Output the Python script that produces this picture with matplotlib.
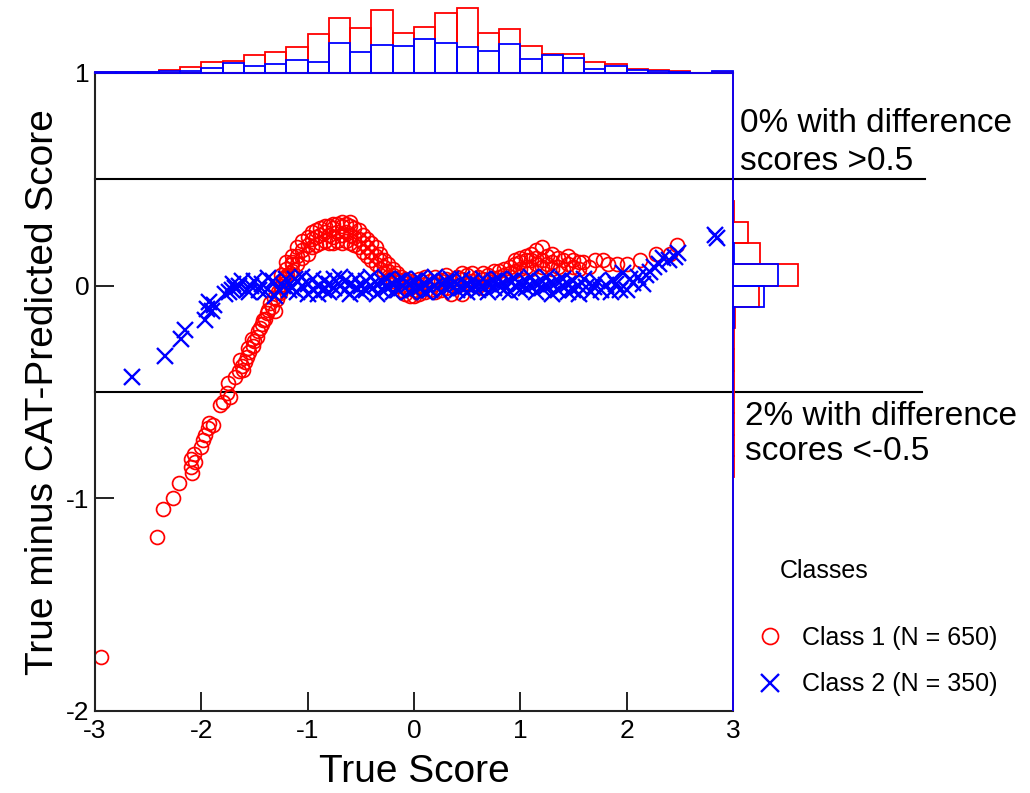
import matplotlib.pyplot as plt
import numpy as np

plt.rcParams['font.family'] = ['Liberation Sans', 'DejaVu Sans']
plt.rcParams['axes.unicode_minus'] = False

# ---- data ----
# marginal histogram of true score, bins of 0.2 from -3 to 3
top_edges = np.linspace(-3, 3, 31)
top_red = [1, 1, 1, 3, 6, 10, 11, 17, 20, 24, 37, 52, 42, 59, 38,
           43, 56, 61, 38, 41, 25, 18, 18, 10, 8, 4, 3, 2, 0, 1]
top_blue = [1, 1, 1, 2, 2, 5, 9, 7, 8, 12, 10, 28, 20, 26, 25,
            32, 28, 24, 21, 27, 13, 17, 14, 4, 7, 3, 2, 1, 0, 2]

# marginal histogram of difference, bins of 0.1 from -2 to 1
right_edges = np.linspace(-2, 1, 31)
right_red = [0, 0, 1, 0, 0, 0, 0, 0, 1, 1, 2, 4, 4, 4, 5,
             5, 6, 6, 11, 117, 291, 121, 67, 4, 0, 0, 0, 0, 0, 0]
right_blue = [0, 0, 0, 0, 0, 0, 0, 0, 0, 0, 0, 0, 0, 0, 0,
              1, 1, 2, 4, 137, 200, 3, 2, 0, 0, 0, 0, 0, 0, 0]

red_tail = [(-2.94, -1.745), (-2.42, -1.18), (-2.36, -1.05), (-2.27, -1.00), (-2.21, -0.93),
            (-2.085, -0.88), (-2.10, -0.855), (-2.06, -0.83), (-2.10, -0.815), (-2.07, -0.79),
            (-2.00, -0.76), (-1.98, -0.725), (-1.965, -0.70), (-1.935, -0.67), (-1.89, -0.655),
            (-1.93, -0.645), (-1.825, -0.56), (-1.795, -0.545), (-1.73, -0.525), (-1.76, -0.505),
            (-1.75, -0.46), (-1.685, -0.43), (-1.65, -0.40), (-1.605, -0.395), (-1.635, -0.35),
            (-1.575, -0.335), (-1.56, -0.295), (-1.51, -0.285), (-1.525, -0.25), (-1.465, -0.215),
            (-1.43, -0.18), (-1.40, -0.155), (-1.37, -0.115), (-1.34, -0.10), (-1.305, -0.12),
            (-1.29, -0.065), (-1.26, -0.035), (-1.23, 0.01), (-1.165, 0.06), (-1.15, 0.10),
            (-1.62, -0.38), (-1.59, -0.36), (-1.55, -0.31), (-1.50, -0.26), (-1.48, -0.24),
            (-1.45, -0.20), (-1.42, -0.16), (-1.38, -0.13), (-1.35, -0.08), (-1.32, -0.06),
            (-1.28, -0.03), (-1.25, 0.00), (-1.22, 0.03), (-1.19, 0.05)]

red_hump = [(-1.25, 0.02), (-1.25, 0.05), (-1.20, 0.04), (-1.20, 0.08), (-1.20, 0.11),
            (-1.15, 0.07), (-1.15, 0.11), (-1.15, 0.14), (-1.10, 0.10), (-1.10, 0.14), (-1.10, 0.18),
            (-1.05, 0.13), (-1.05, 0.17), (-1.05, 0.21), (-1.00, 0.15), (-1.00, 0.19), (-1.00, 0.23),
            (-0.96, 0.18), (-0.96, 0.22), (-0.96, 0.25), (-0.92, 0.19), (-0.92, 0.23), (-0.92, 0.26),
            (-0.88, 0.20), (-0.88, 0.24), (-0.88, 0.27), (-0.84, 0.21), (-0.84, 0.25), (-0.84, 0.28),
            (-0.80, 0.20), (-0.80, 0.24), (-0.80, 0.28), (-0.76, 0.20), (-0.76, 0.23), (-0.76, 0.27),
            (-0.76, 0.29), (-0.72, 0.21), (-0.72, 0.25), (-0.72, 0.29), (-0.68, 0.20), (-0.68, 0.24),
            (-0.68, 0.28), (-0.68, 0.30), (-0.64, 0.21), (-0.64, 0.25), (-0.64, 0.29), (-0.60, 0.20),
            (-0.60, 0.24), (-0.60, 0.28), (-0.60, 0.30), (-0.56, 0.19), (-0.56, 0.23), (-0.56, 0.27),
            (-0.52, 0.18), (-0.52, 0.22), (-0.52, 0.26), (-0.48, 0.16), (-0.48, 0.20), (-0.48, 0.24),
            (-0.44, 0.14), (-0.44, 0.18), (-0.44, 0.22), (-0.40, 0.12), (-0.40, 0.16), (-0.40, 0.20),
            (-0.36, 0.10), (-0.36, 0.14), (-0.36, 0.18), (-0.32, 0.08), (-0.32, 0.12), (-0.32, 0.15),
            (-0.28, 0.06), (-0.28, 0.09), (-0.28, 0.12), (-0.24, 0.04), (-0.24, 0.07), (-0.24, 0.10),
            (-0.20, 0.02), (-0.20, 0.05), (-0.20, 0.08), (-0.16, 0.00), (-0.16, 0.03), (-0.16, 0.06),
            (-0.12, -0.02), (-0.12, 0.02), (-0.12, 0.04), (-0.08, -0.04), (-0.08, 0.00), (-0.08, 0.03),
            (-0.04, -0.05), (-0.04, -0.01), (-0.04, 0.02), (0.00, -0.05), (0.00, -0.02), (0.00, 0.01)]

red_mid = [(0.05, -0.04), (0.05, 0.00), (0.05, 0.03), (0.10, -0.03), (0.10, 0.01), (0.10, 0.04),
           (0.15, -0.02), (0.15, 0.02), (0.20, -0.03), (0.20, 0.01), (0.20, 0.04), (0.25, -0.02),
           (0.25, 0.02), (0.30, -0.01), (0.30, 0.03), (0.30, 0.05), (0.35, -0.04), (0.35, 0.02),
           (0.40, 0.00), (0.40, 0.04), (0.45, -0.04), (0.45, 0.03), (0.45, 0.06), (0.50, 0.01),
           (0.50, 0.05), (0.55, 0.02), (0.55, 0.06), (0.60, 0.00), (0.60, 0.04), (0.65, -0.01),
           (0.65, 0.03), (0.65, 0.06), (0.70, 0.02), (0.70, 0.05), (0.75, 0.03), (0.75, 0.07),
           (0.80, 0.04), (0.80, 0.07), (0.85, 0.05), (0.85, 0.08), (0.90, 0.06), (0.90, 0.09),
           (0.95, 0.07), (0.95, 0.10), (0.95, 0.12), (1.00, 0.08), (1.00, 0.11), (1.00, 0.13),
           (1.05, 0.09), (1.05, 0.12), (1.05, 0.14), (1.10, 0.08), (1.10, 0.12), (1.10, 0.15),
           (1.15, 0.10), (1.15, 0.13), (1.15, 0.17), (1.20, 0.09), (1.20, 0.12), (1.20, 0.18),
           (1.25, 0.10), (1.25, 0.14), (1.30, 0.08), (1.30, 0.11), (1.30, 0.15), (1.35, 0.09),
           (1.35, 0.13), (1.40, 0.08), (1.40, 0.12), (1.45, 0.10), (1.45, 0.14), (1.50, 0.09),
           (1.50, 0.12), (1.55, 0.08), (1.55, 0.11), (1.59, 0.11), (1.65, 0.09), (1.70, 0.12),
           (1.78, 0.12), (1.82, 0.10), (1.91, 0.10), (2.00, 0.10), (2.13, 0.12), (2.28, 0.15),
           (2.41, 0.15), (2.47, 0.19)]

blue_tail = [(-2.65, -0.43), (-2.34, -0.33), (-2.19, -0.25), (-2.15, -0.21), (-1.97, -0.16),
             (-1.95, -0.11), (-1.90, -0.12), (-1.93, -0.075), (-1.88, -0.09), (-1.78, -0.04),
             (-1.74, -0.03), (-1.71, -0.02), (-1.70, 0.01), (-1.68, -0.01), (-1.65, 0.00),
             (-1.62, 0.02), (-1.57, -0.02), (-1.55, -0.03), (-1.53, 0.00), (-1.50, 0.02),
             (-1.46, -0.02), (-1.43, 0.01), (-1.40, -0.03), (-1.37, 0.035), (-1.33, 0.02),
             (-1.31, -0.05), (-1.27, -0.02), (-1.23, 0.00), (-1.20, 0.03), (-1.18, -0.02),
             (-1.15, -0.01), (-1.12, 0.03)]

blue_band = [(-1.10, -0.03), (-1.10, 0.02), (-1.05, 0.00), (-1.05, 0.04), (-1.00, -0.04), (-1.00, 0.01),
             (-0.95, -0.02), (-0.95, 0.03), (-0.90, 0.00), (-0.90, -0.04), (-0.85, 0.02), (-0.85, -0.02),
             (-0.80, -0.03), (-0.80, 0.01), (-0.75, 0.03), (-0.75, -0.01), (-0.70, 0.00), (-0.70, 0.04),
             (-0.65, -0.02), (-0.65, 0.02), (-0.60, 0.01), (-0.60, -0.04), (-0.55, 0.03), (-0.55, -0.01),
             (-0.50, -0.03), (-0.50, 0.00), (-0.45, 0.02), (-0.45, -0.02), (-0.40, 0.00), (-0.40, 0.04),
             (-0.35, -0.04), (-0.35, 0.01), (-0.30, 0.02), (-0.30, -0.02), (-0.25, -0.01), (-0.25, 0.03),
             (-0.20, 0.01), (-0.20, -0.03), (-0.15, -0.02), (-0.15, 0.02), (-0.10, 0.00), (-0.10, 0.03),
             (-0.05, -0.03), (-0.05, 0.01), (0.00, 0.02), (0.00, -0.02), (0.05, -0.01), (0.05, 0.03),
             (0.10, 0.01), (0.10, -0.03), (0.15, -0.02), (0.15, 0.02), (0.20, 0.00), (0.20, 0.04),
             (0.25, -0.03), (0.25, 0.01), (0.30, 0.02), (0.30, -0.01), (0.35, 0.00), (0.35, 0.03),
             (0.40, -0.02), (0.40, 0.01), (0.45, 0.03), (0.45, -0.01), (0.50, 0.00), (0.50, -0.03),
             (0.55, 0.02), (0.55, -0.01), (0.60, -0.02), (0.60, 0.01), (0.65, 0.00), (0.65, 0.03),
             (0.70, -0.03), (0.70, 0.01), (0.75, 0.02), (0.75, -0.01), (0.80, 0.00), (0.80, 0.03),
             (0.85, -0.02), (0.85, 0.01), (0.90, 0.02), (0.90, -0.03), (0.95, 0.00), (0.95, 0.03),
             (1.00, -0.02), (1.00, 0.01), (1.05, 0.02), (1.05, -0.01), (1.10, 0.00), (1.10, 0.04),
             (1.15, -0.03), (1.15, 0.01), (1.20, 0.02), (1.20, -0.01), (1.25, 0.00), (1.25, 0.04),
             (1.30, -0.04), (1.30, 0.01), (1.35, 0.02), (1.35, -0.02), (1.40, 0.00), (1.40, 0.03),
             (1.45, -0.03), (1.45, 0.01), (1.50, 0.02), (1.50, -0.02), (1.55, -0.04), (1.55, 0.00)]

blue_end = [(1.60, 0.03), (1.62, -0.005), (1.66, -0.03), (1.69, -0.005), (1.72, 0.02), (1.76, -0.02),
            (1.81, 0.003), (1.85, -0.03), (1.875, 0.027), (1.90, 0.01), (1.94, -0.02), (1.97, 0.058),
            (2.00, -0.02), (2.03, 0.03), (2.06, 0.011), (2.11, 0.042), (2.15, 0.01), (2.18, 0.05),
            (2.22, 0.066), (2.26, 0.09), (2.30, 0.10), (2.345, 0.129), (2.40, 0.12), (2.455, 0.136),
            (2.486, 0.152), (2.83, 0.238), (2.85, 0.223)]

x_ticks = [-3, -2, -1, 0, 1, 2, 3]
y_ticks = [-2, -1, 0, 1]
cutoffs = [0.5, -0.5]
labels = ['Class 1 (N = 650)', 'Class 2 (N = 350)']

# ---- layout (pixels of a 1030 x 793 figure) ----
W, H = 1030, 793
fig = plt.figure(figsize=(W / 100, H / 100), dpi=100)
L, R, T, B = 95, 733, 73, 711
ax = fig.add_axes([L / W, 1 - B / H, (R - L) / W, (B - T) / H])
ax_top = fig.add_axes([L / W, 1 - T / H, (R - L) / W, (T - 2) / H])
ax_right = fig.add_axes([R / W, 1 - B / H, 80 / W, (B - T) / H])

red = np.array(red_tail + red_hump + red_mid)
blue = np.array(blue_tail + blue_band + blue_end)

h1, = ax.plot(red[:, 0], red[:, 1], 'o', mfc='none', mec='red', ms=10, mew=1.25)
h2, = ax.plot(blue[:, 0], blue[:, 1], 'x', color='blue', ms=11, mew=1.7)

for c, xm in zip(cutoffs, [1.301, 1.296]):
    ax.axhline(c, xmin=0, xmax=xm, color='black', lw=1.5, clip_on=False, zorder=1)

ax.set_xlim(-3, 3)
ax.set_ylim(-2, 1)
ax.set_xticks(x_ticks)
ax.set_yticks(y_ticks)
ax.tick_params(direction='in', length=14, width=1.4, labelsize=19, color='#222222')
ax.tick_params(axis='x', pad=6)
ax.tick_params(axis='y', pad=4)
for s in ['left', 'bottom', 'top']:
    ax.spines[s].set_linewidth(1.5)
    ax.spines[s].set_color('#222222')
ax.spines['right'].set_visible(False)

ax.set_xlabel('True Score', fontsize=28, va='center')
ax.xaxis.set_label_coords(0.5, -0.096)
ax.set_ylabel('True minus CAT-Predicted Score', fontsize=28, va='center')
ax.yaxis.set_label_coords(-0.081, 0.5)

# top histogram
bw = np.diff(top_edges)
ax_top.bar(top_edges[:-1], top_red, width=bw, align='edge', fill=False,
           edgecolor='red', lw=1.3, clip_on=False)
ax_top.bar(top_edges[:-1], top_blue, width=bw, align='edge', fill=False,
           edgecolor='blue', lw=1.3, clip_on=False)
ax_top.set_xlim(-3, 3)
ax_top.set_ylim(0, 61 * (T - 2) / 65)
ax_top.axis('off')

# right histogram
bh = np.diff(right_edges)
ax_right.barh(right_edges[:-1], right_red, height=bh, align='edge', fill=False,
              edgecolor='red', lw=1.3, clip_on=False)
ax_right.barh(right_edges[:-1], right_blue, height=bh, align='edge', fill=False,
              edgecolor='blue', lw=1.3, clip_on=False)
ax_right.set_ylim(-2, 1)
ax_right.set_xlim(0, 291 * 80 / 65)
ax_right.axis('off')

# annotations
fig.text(740 / W, 1 - 132 / H, '0% with difference', fontsize=24, va='baseline')
fig.text(740 / W, 1 - 170 / H, 'scores >0.5', fontsize=24, va='baseline')
fig.text(745 / W, 1 - 425 / H, '2% with difference', fontsize=24, va='baseline')
fig.text(745 / W, 1 - 460 / H, 'scores <-0.5', fontsize=24, va='baseline')

fig.text(780 / W, 1 - 571 / H, 'Classes', fontsize=18, va='center')
fig.legend([h1, h2], labels, loc='upper left', bbox_to_anchor=(757 / W, 1 - 626 / H),
           frameon=False, fontsize=18, handlelength=1.0, handletextpad=0.8,
           labelspacing=0.9, markerscale=1.15, borderpad=0, borderaxespad=0)

fig.savefig('out.png', dpi=100)
